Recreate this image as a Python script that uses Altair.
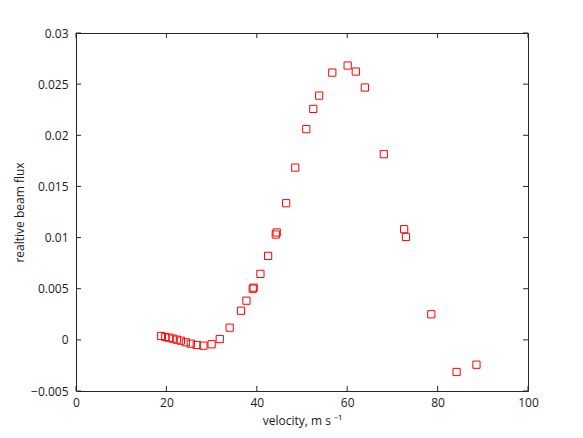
import altair as alt
import pandas as pd

# data
velocity = [18.8, 19.75, 20.6, 21.4, 22.3, 23.2, 24.3, 25.4, 26.7, 28.2, 30.0, 31.8,
            34.0, 36.5, 37.7, 39.1, 39.3, 40.8, 42.5, 44.2, 44.4, 46.5, 48.5, 50.95,
            52.5, 53.8, 56.7, 60.1, 61.9, 63.9, 68.1, 72.6, 73.0, 78.6, 84.2, 88.6]
flux = [0.00038, 0.00028, 0.00021, 0.00012, 0.00002, -0.00008, -0.00024, -0.00037,
        -0.00050, -0.00057, -0.00043, 0.00008,
        0.00119, 0.00285, 0.00383, 0.00500, 0.00510, 0.00645, 0.00821, 0.01030,
        0.01050, 0.01336, 0.01684, 0.02060,
        0.02258, 0.02388, 0.02613, 0.02682, 0.02623, 0.02467, 0.01815, 0.01082,
        0.01006, 0.00250, -0.00314, -0.00243]
x_ticks = [0, 20, 40, 60, 80, 100]
y_ticks = [-0.005, 0, 0.005, 0.01, 0.015, 0.02, 0.025, 0.03]

W, H = 452, 358
FONT = "Open Sans"
AX = "#262626"

df = pd.DataFrame({"v": velocity, "f": flux})
dfx = pd.DataFrame({"t": x_ticks})
dfy = pd.DataFrame({"t": y_ticks})

xs = alt.Scale(domain=[0, 100], nice=False, zero=False)
ys = alt.Scale(domain=[-0.005, 0.03], nice=False, zero=False)

points = alt.Chart(df).mark_point(
    shape="square", filled=False, color="#ff0000", size=52, strokeWidth=1, opacity=1
).encode(
    x=alt.X("v:Q", scale=xs, axis=alt.Axis(
        values=x_ticks, title="velocity, m s ⁻¹", ticks=False, domain=False, grid=False,
        labelPadding=6, titlePadding=7, format="d", labelFlush=False)),
    y=alt.Y("f:Q", scale=ys, axis=alt.Axis(
        values=y_ticks, title="realtive beam flux", ticks=False, domain=False, grid=False,
        labelPadding=8, titlePadding=4, format="~g", labelFlush=False)),
)

tick_len = 5
xb = alt.Chart(dfx).mark_rule(color=AX, strokeWidth=1).encode(
    x=alt.X("t:Q", scale=xs), y=alt.value(H), y2=alt.value(H - tick_len))
xt = alt.Chart(dfx).mark_rule(color=AX, strokeWidth=1).encode(
    x=alt.X("t:Q", scale=xs), y=alt.value(0), y2=alt.value(tick_len))
yl = alt.Chart(dfy).mark_rule(color=AX, strokeWidth=1).encode(
    y=alt.Y("t:Q", scale=ys), x=alt.value(0), x2=alt.value(tick_len))
yr = alt.Chart(dfy).mark_rule(color=AX, strokeWidth=1).encode(
    y=alt.Y("t:Q", scale=ys), x=alt.value(W), x2=alt.value(W - tick_len))

chart = alt.layer(xb, xt, yl, yr, points).properties(
    width=W, height=H,
    autosize=alt.AutoSizeParams(type="none"),
    padding={"left": 68, "top": 25, "right": 47, "bottom": 39},
    background="white",
).configure_view(
    stroke=AX, strokeWidth=1
).configure_axis(
    labelFont=FONT, titleFont=FONT, labelFontSize=12, titleFontSize=12,
    labelColor="#1a1a1a", titleColor="#1a1a1a", titleFontWeight="normal",
)

chart.save("out.html", embed_options={"renderer": "svg", "actions": False})
